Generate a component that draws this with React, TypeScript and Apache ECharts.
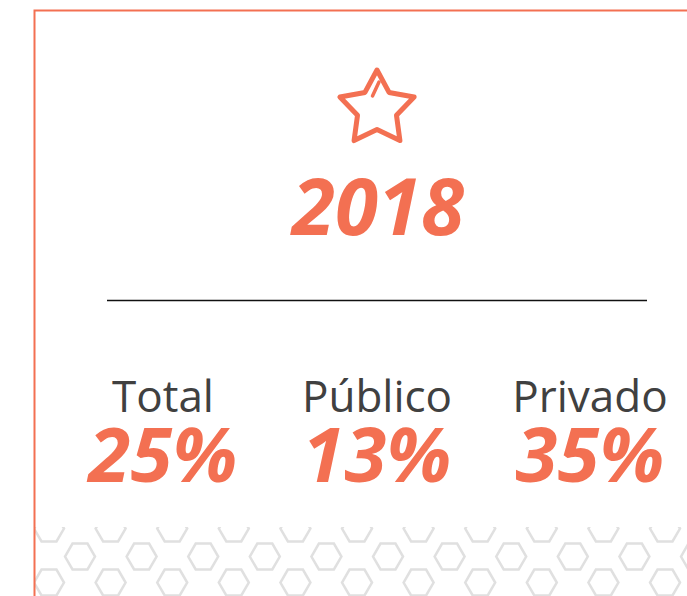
import React, { useEffect, useRef } from "react";
import * as echarts from "echarts";

const yearLabel = "2018";
const categories = ["Total", "Público", "Privado"];
const percentValues = [25, 13, 35];

const ACCENT = "#F37052";
const LABEL = "#404040";
const FONT = "'Open Sans', 'Segoe UI', sans-serif";

function starPoints(cx: number, cy: number, R: number, r: number) {
  const pts: number[][] = [];
  for (let i = 0; i < 10; i++) {
    const ang = -Math.PI / 2 + (i * Math.PI) / 5;
    const rad = i % 2 === 0 ? R : r;
    pts.push([cx + rad * Math.cos(ang), cy + rad * Math.sin(ang)]);
  }
  return pts;
}

function hexPattern() {
  const els: any[] = [];
  const r = 15;
  const hh = (r * Math.sqrt(3)) / 2;
  const rows = [
    { cy: 528.5, x0: 49 },
    { cy: 556.5, x0: 80 },
    { cy: 582.5, x0: 49 },
  ];
  const step = 61.6;
  rows.forEach((row) => {
    for (let cx = row.x0 - step; cx < 740; cx += step) {
      els.push({
        type: "polygon",
        z: 1,
        silent: true,
        shape: {
          points: [
            [cx - r, row.cy],
            [cx - r / 2, row.cy - hh],
            [cx + r / 2, row.cy - hh],
            [cx + r, row.cy],
            [cx + r / 2, row.cy + hh],
            [cx - r / 2, row.cy + hh],
          ],
        },
        style: { fill: "none", stroke: "#e0e0e0", lineWidth: 2.5 },
      });
    }
  });
  return els;
}

export default function App() {
  const ref = useRef<HTMLDivElement>(null);
  useEffect(() => {
    if (!ref.current) return;
    const chart = echarts.init(ref.current, undefined, { renderer: "svg" });
    const colX = [163, 377, 590];
    const elements: any[] = [
      ...hexPattern(),
      { type: "rect", z: 2, silent: true, shape: { x: 0, y: 0, width: 700, height: 527 }, style: { fill: "#fff" } },
      { type: "rect", z: 2, silent: true, shape: { x: 0, y: 0, width: 34, height: 600 }, style: { fill: "#fff" } },
      {
        type: "rect",
        z: 5,
        silent: true,
        shape: { x: 34.5, y: 10.5, width: 720, height: 720 },
        style: { fill: "none", stroke: ACCENT, lineWidth: 2 },
      },
      {
        type: "polygon",
        z: 5,
        shape: { points: starPoints(377, 109, 39, 20.5) },
        style: { fill: "none", stroke: ACCENT, lineWidth: 5, lineJoin: "round" },
      },
      {
        type: "line",
        z: 5,
        shape: { x1: 379, y1: 82, x2: 372.5, y2: 96 },
        style: { stroke: ACCENT, lineWidth: 3.5, lineCap: "round" },
      },
      {
        type: "text",
        z: 5,
        x: 378,
        y: 205,
        style: {
          text: yearLabel,
          fill: ACCENT,
          font: `italic bold 78px ${FONT}`,
          lineHeight: 60,
          textAlign: "center",
          textVerticalAlign: "middle",
        },
      },
      {
        type: "line",
        z: 5,
        shape: { x1: 107, y1: 300.5, x2: 647, y2: 300.5 },
        style: { stroke: "#111", lineWidth: 1.5 },
      },
    ];
    categories.forEach((c, i) => {
      elements.push({
        type: "text",
        z: 5,
        x: colX[i],
        y: 395,
        style: {
          text: c,
          fill: LABEL,
          font: `normal 44px ${FONT}`,
          lineHeight: 36,
          textAlign: "center",
          textVerticalAlign: "middle",
        },
      });
      elements.push({
        type: "text",
        z: 5,
        x: colX[i],
        y: 452,
        style: {
          text: `${percentValues[i]}%`,
          fill: ACCENT,
          font: `italic bold 76px ${FONT}`,
          lineHeight: 56,
          textAlign: "center",
          textVerticalAlign: "middle",
        },
      });
    });
    chart.setOption({ animation: false, graphic: { elements } });
    return () => chart.dispose();
  }, []);
  return (
    <div
      ref={ref}
      style={{ position: "absolute", left: 0, top: 0, width: 687, height: 596, background: "#fff" }}
    />
  );
}
